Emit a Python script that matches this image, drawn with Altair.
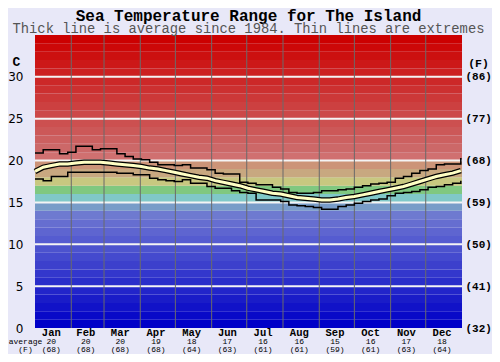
import altair as alt
import pandas as pd

# ---------------- data ----------------
months = ["Jan", "Feb", "Mar", "Apr", "May", "Jun", "Jul", "Aug", "Sep", "Oct", "Nov", "Dec"]
month_days = [31, 28, 31, 30, 31, 30, 31, 31, 30, 31, 30, 31]
avg_c_labels = ["20", "20", "20", "19", "18", "17", "16", "16", "15", "16", "17", "18"]
avg_f_labels = ["(68)", "(68)", "(68)", "(68)", "(64)", "(63)", "(61)", "(61)", "(59)", "(61)", "(63)", "(64)"]

week_day = list(range(0, 365, 7))  # 53 weekly samples
max_t = [20.9, 21.3, 21.3, 20.8, 21.0, 21.7, 21.7, 21.3, 21.4, 21.4,
         20.8, 20.5, 20.2, 20.1, 19.8, 19.5, 19.5, 19.4, 19.5, 19.1,
         19.1, 18.9, 18.5, 18.4, 18.4, 17.4, 17.3, 17.1, 17.1, 16.8,
         16.6, 16.2, 16.1, 16.1, 16.2, 16.4, 16.4, 16.5, 16.6, 16.8,
         17.0, 17.2, 17.3, 17.4, 17.9, 18.1, 18.5, 18.8, 19.0, 19.5,
         19.6, 19.6, 20.3]
avg_t = [18.7, 19.2, 19.4, 19.6, 19.6, 19.7, 19.8, 19.8, 19.8, 19.7,
         19.6, 19.5, 19.4, 19.3, 19.1, 19.0, 18.8, 18.6, 18.4, 18.2,
         18.0, 17.9, 17.6, 17.4, 17.2, 17.0, 16.7, 16.5, 16.3, 16.1,
         16.0, 15.8, 15.6, 15.5, 15.4, 15.3, 15.3, 15.4, 15.6, 15.7,
         15.9, 16.1, 16.3, 16.5, 16.7, 16.9, 17.2, 17.5, 17.8, 18.1,
         18.3, 18.5, 18.8]
min_t = [17.8, 17.6, 18.1, 18.1, 18.6, 18.6, 18.6, 18.6, 18.6, 18.6,
         18.5, 18.5, 18.3, 18.3, 17.9, 17.7, 17.6, 17.5, 17.7, 17.3,
         17.3, 16.9, 16.7, 16.7, 16.4, 16.2, 16.1, 15.3, 15.3, 15.3,
         15.1, 14.7, 14.6, 14.5, 14.4, 14.2, 14.2, 14.5, 14.7, 14.9,
         15.1, 15.3, 15.4, 15.8, 16.1, 16.2, 16.3, 16.5, 16.8, 16.9,
         17.1, 17.3, 17.6]

band_colors = [
    "#0000c8", "#0809c8", "#1112c8", "#1a1cc8", "#2225ca", "#2a2eca", "#3337cc",
    "#3c40cc", "#444ace", "#4c53ce", "#555cd0", "#5e65d0", "#666ed0", "#6e7ad0",
    "#789cc8", "#80c8c8", "#80c880", "#c8c880", "#c8a880", "#cc9478", "#d07070",
    "#cc6868", "#cc6060", "#cc5858", "#cc5050", "#cc4848", "#cc4040", "#cc3838",
    "#cc3030", "#cc2828", "#cc2020", "#cc1818", "#cc1010", "#cc0808", "#cc0000",
]
grid_c = [5, 10, 15, 20, 25, 30]
c_ticks = [0, 5, 10, 15, 20, 25, 30]

# ---------------- tables ----------------
month_start = [sum(month_days[:i]) for i in range(12)]
month_bounds = [sum(month_days[:i + 1]) for i in range(11)]
month_mid = [month_start[i] + month_days[i] / 2 - 2 for i in range(12)]

bands = pd.DataFrame({"lo": list(range(35)), "hi": list(range(1, 36)), "color": band_colors})
grid = pd.DataFrame({"t": grid_c})
mlines = pd.DataFrame({"d": month_bounds})
series = pd.DataFrame({"day": week_day, "max": max_t, "avg": avg_t, "min": min_t})

xs = alt.Scale(domain=[0, 365], nice=False, zero=False)
ys = alt.Scale(domain=[0, 35], nice=False, zero=False)

mono = "Liberation Mono"
names_js = "[" + ",".join("'%s'" % m for m in months) + "]"
vals_js = "[" + ",".join(str(v) for v in month_mid) + "]"
c_js = "[" + ",".join("'%s'" % v for v in avg_c_labels) + "]"
f_js = "[" + ",".join("'%s'" % v for v in avg_f_labels) + "]"
idx = "indexof(%s, datum.value)" % vals_js

left_axis = alt.Axis(orient="left", values=c_ticks, labelFont="DejaVu Sans", labelFontSize=12,
                     labelColor="black", labelPadding=12, ticks=False, domain=False, grid=False,
                     labelFlush=False, labelOverlap=False,
                     title="C", titleAngle=0, titleFont=mono, titleFontSize=13, titleFontWeight="bold",
                     titleX=-19, titleY=26, titleAlign="center", titleBaseline="middle", titleColor="black")
right_axis = alt.Axis(orient="right", values=c_ticks,
                      labelExpr="'(' + round(datum.value*9/5+32) + ')'",
                      labelFont=mono, labelFontWeight="bold", labelFontSize=11, labelColor="black",
                      labelPadding=3, ticks=False, domain=False, grid=False, labelFlush=False,
                      labelOverlap=False,
                      title="(F)", titleAngle=0, titleFont=mono, titleFontSize=11.5, titleFontWeight="bold",
                      titleX=16, titleY=28, titleAlign="center", titleBaseline="middle", titleColor="black")
month_axis = alt.Axis(orient="bottom", values=month_mid, labelExpr="%s[%s]" % (names_js, idx),
                      labelFont=mono, labelFontWeight="bold", labelFontSize=10.5, labelColor="black",
                      labelPadding=-1, ticks=False, domain=False, grid=False, labelFlush=False,
                      labelOverlap=False, title=None)
avg_axis = alt.Axis(orient="bottom", offset=7.5, values=month_mid,
                    labelExpr="[%s[%s], %s[%s]]" % (c_js, idx, f_js, idx),
                    labelFont=mono, labelFontSize=8, labelLineHeight=8, labelColor="black",
                    labelPadding=2, ticks=False, domain=False, grid=False, labelFlush=False,
                    labelOverlap=False, title=["average", "(F)"], titleFont=mono, titleFontSize=8,
                    titleFontWeight="normal", titleLineHeight=8, titleX=-10, titleY=2,
                    titleAlign="center", titleBaseline="top", titleAngle=0, titleColor="black")

band_layer = alt.Chart(bands).mark_rect().encode(
    y=alt.Y("lo:Q", scale=ys, axis=left_axis),
    y2="hi:Q",
    color=alt.Color("color:N", scale=None),
)
grid_layer = alt.Chart(grid).mark_rule(color="#f4f4f4", strokeWidth=2).encode(
    y=alt.Y("t:Q", scale=ys, axis=None)
)
month_layer = alt.Chart(mlines).mark_rule(color="#6a6a6a", strokeWidth=1).encode(
    x=alt.X("d:Q", scale=xs, axis=month_axis)
)
max_layer = alt.Chart(series).mark_line(interpolate="step-after", color="black", strokeWidth=1.5).encode(
    x=alt.X("day:Q", scale=xs, axis=None), y=alt.Y("max:Q", scale=ys, axis=None)
)
min_layer = alt.Chart(series).mark_line(interpolate="step-after", color="black", strokeWidth=1.5).encode(
    x=alt.X("day:Q", scale=xs, axis=None), y=alt.Y("min:Q", scale=ys, axis=None)
)
avg_out = alt.Chart(series).mark_line(color="black", strokeWidth=5.5).encode(
    x=alt.X("day:Q", scale=xs, axis=None), y=alt.Y("avg:Q", scale=ys, axis=None)
)
avg_in = alt.Chart(series).mark_line(color="#ffffc4", strokeWidth=3).encode(
    x=alt.X("day:Q", scale=xs, axis=None), y=alt.Y("avg:Q", scale=ys, axis=None)
)
aux_layer = alt.Chart(series).mark_rule(opacity=0).encode(
    x=alt.X("day:Q", scale=xs, axis=avg_axis), y=alt.Y("max:Q", scale=ys, axis=right_axis)
)

chart = alt.layer(
    band_layer, grid_layer, month_layer, max_layer, min_layer, avg_out, avg_in, aux_layer
).resolve_scale(x="independent", y="independent").properties(
    width=427, height=293,
    autosize=alt.AutoSizeParams(type="none"),
    padding={"left": 27, "top": 27, "right": 30, "bottom": 26},
    title=alt.TitleParams(
        text="Sea Temperature Range for The Island",
        subtitle="Thick line is average since 1984. Thin lines are extremes",
        font=mono, fontSize=16, fontWeight="bold", color="black",
        subtitleFont=mono, subtitleFontSize=13.8, subtitleColor="#555555",
        anchor="middle", frame="group", offset=-1.5, subtitlePadding=-1.3,
    ),
).configure(background="#e8e8f8").configure_view(stroke=None)

chart.save("out.html", embed_options={"renderer": "svg", "actions": False})
